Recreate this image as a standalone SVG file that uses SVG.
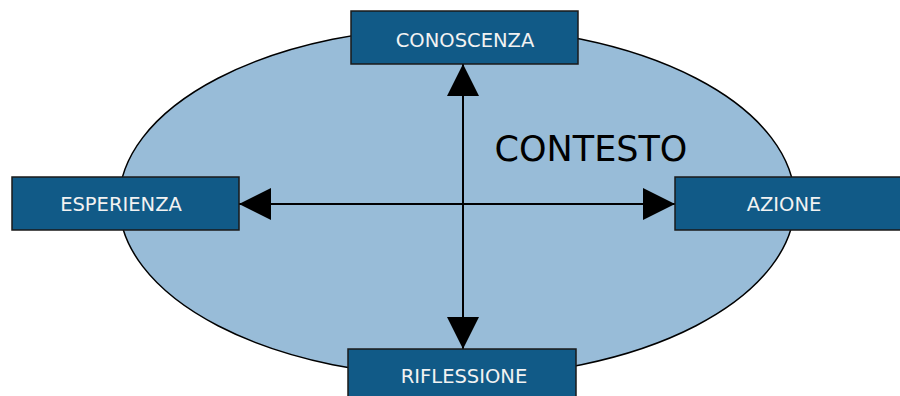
<svg xmlns="http://www.w3.org/2000/svg" width="900" height="396" viewBox="0 0 900 396">
  <style>
    .box { fill: #115A87; stroke: #1a1a1a; stroke-width: 1.5; }
    .lbl { fill: #F2F2F2; font-family: "DejaVu Sans", Verdana, sans-serif; font-size: 19.5px; text-anchor: middle; }
    .conn { stroke: #000; stroke-width: 2; fill: none; marker-start: url(#arr); marker-end: url(#arr); }
    .title { fill: #000; font-family: "DejaVu Sans", Verdana, sans-serif; font-size: 35px; text-anchor: middle; }
  </style>
  <defs>
    <marker id="arr" viewBox="0 0 32 32" refX="32" refY="16" markerWidth="32" markerHeight="32" markerUnits="userSpaceOnUse" orient="auto-start-reverse">
      <path d="M0,0 L32,16 L0,32 Z" fill="#000"/>
    </marker>
  </defs>
  <rect width="900" height="396" fill="#fff"/>
  <g id="contesto">
    <ellipse cx="457" cy="202" rx="338" ry="175" fill="#98BCD8" stroke="#000" stroke-width="1.5"/>
    <text class="title" x="591" y="161">CONTESTO</text>
  </g>
  <g id="connectors">
    <line class="conn" x1="463" y1="64" x2="463" y2="349"/>
    <line class="conn" x1="239" y1="204" x2="675" y2="204"/>
  </g>
  <g id="conoscenza">
    <rect class="box" x="351" y="11" width="227" height="53"/>
    <text class="lbl" x="465" y="47">CONOSCENZA</text>
  </g>
  <g id="esperienza">
    <rect class="box" x="12" y="177" width="227" height="53"/>
    <text class="lbl" x="121" y="211">ESPERIENZA</text>
  </g>
  <g id="azione">
    <rect class="box" x="675" y="177" width="228" height="53"/>
    <text class="lbl" x="784" y="211">AZIONE</text>
  </g>
  <g id="riflessione">
    <rect class="box" x="348" y="349" width="228" height="53"/>
    <text class="lbl" x="464" y="383">RIFLESSIONE</text>
  </g>
</svg>
